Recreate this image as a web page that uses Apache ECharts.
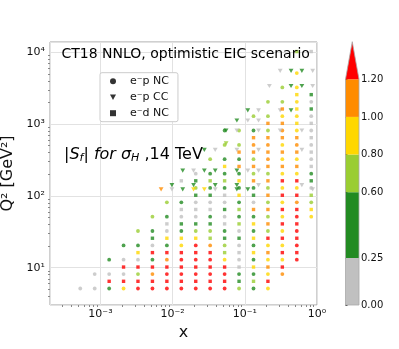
<!DOCTYPE html>
<html><head><meta charset="utf-8">
<script src="https://cdn.jsdelivr.net/npm/echarts@6/dist/echarts.min.js"></script>
<style>html,body{margin:0;padding:0;background:#fff;}#c{width:399px;height:349px;}</style>
</head><body><div id="c"></div>
<script>
// representative |S_f| value for each colour bin
const G = 0.15, D = 0.45, Y = 0.7, A = 0.9, O = 1.1, R = 1.4, _ = null;

// e- p NC and e- d NC share the x bins
const xBinsNC = [5.25e-4, 8.32e-4, 1.32e-3, 2.09e-3, 3.31e-3, 5.25e-3, 8.32e-3, 0.0132, 0.0209,
  0.0331, 0.0525, 0.0832, 0.132, 0.209, 0.331, 0.525, 0.832];

const q2BinsEpNC = [5.13, 8.13, 12.9, 20.4, 32.4, 51.3, 81.3, 129, 204, 324, 513, 813, 1288, 2042, 3236, 5129];
const sEpNC = [
  [G,G,D,A,R,R,R,R,R,R,R,Y,D,A,_,_,_],
  [_,G,G,G,Y,O,R,R,R,R,R,D,D,A,O,_,_],
  [_,_,D,G,G,D,O,R,R,R,A,G,D,A,A,R,_],
  [_,_,_,D,D,G,D,A,R,O,Y,G,D,A,A,R,_],
  [_,_,_,_,Y,D,G,D,Y,Y,D,G,D,Y,A,R,_],
  [_,_,_,_,_,Y,D,G,G,D,G,D,D,Y,A,R,A],
  [_,_,_,_,_,_,Y,D,G,G,G,D,G,Y,A,O,Y],
  [_,_,_,_,_,_,_,_,Y,D,D,D,D,Y,A,A,G],
  [_,_,_,_,_,_,_,_,G,D,D,D,Y,Y,A,A,D],
  [_,_,_,_,_,_,_,_,_,Y,D,D,Y,O,A,A,G],
  [_,_,_,_,_,_,_,_,_,_,Y,Y,O,O,A,O,G],
  [_,_,_,_,_,_,_,_,_,_,D,Y,D,Y,O,A,G],
  [_,_,_,_,_,_,_,_,_,_,_,_,Y,Y,A,A,G],
  [_,_,_,_,_,_,_,_,_,_,_,_,_,Y,Y,A,G],
  [_,_,_,_,_,_,_,_,_,_,_,_,_,_,Y,A,_],
  [_,_,_,_,_,_,_,_,_,_,_,_,_,_,_,A,_]
];

const q2BinsEdNC = [6.46, 10.2, 16.2, 25.7, 40.7, 64.6, 102, 162, 257, 407, 646, 1023, 1622, 2570, 10233];
const sEdNC = [
  [_,_,R,R,R,R,R,R,R,R,R,D,Y,R,_,_,_],
  [_,_,_,R,R,R,R,R,R,R,R,G,A,O,R,_,_],
  [_,_,_,_,A,R,R,R,R,R,Y,G,A,O,R,R,_],
  [_,_,_,_,_,D,A,A,A,Y,D,D,A,R,R,R,_],
  [_,_,_,_,_,_,G,D,D,D,G,Y,A,O,R,R,_],
  [_,_,_,_,_,_,_,G,G,G,D,Y,O,O,R,R,A],
  [_,_,_,_,_,_,_,_,D,D,G,A,D,O,R,R,Y],
  [_,_,_,_,_,_,_,G,D,Y,Y,A,O,O,R,R,D],
  [_,_,_,_,_,_,_,_,_,_,A,O,O,O,O,O,G],
  [_,_,_,_,_,_,_,_,_,_,_,O,O,O,O,O,G],
  [_,_,_,_,_,_,_,_,_,_,_,_,O,O,O,O,G],
  [_,_,_,_,_,_,_,_,_,_,_,_,_,O,O,A,G],
  [_,_,_,_,_,_,_,_,_,_,_,_,_,_,O,A,D],
  [_,_,_,_,_,_,_,_,_,_,_,_,_,_,_,A,D],
  [_,_,_,_,_,_,_,_,_,_,_,_,_,_,_,Y,G]
];

// e- p CC
const xBinsCC = [6.92e-3, 9.77e-3, 0.0138, 0.0195, 0.0275, 0.0389, 0.0550, 0.0776, 0.110, 0.155, 0.219, 0.309, 0.437, 0.617, 0.871];
const q2BinsCC = [123, 141, 224, 437, 537, 813, 1122, 1549, 3388, 5495];
const sCC = [
  [O,G,D,A,A,G,_,D,D,_,_,_,_,_,G],
  [_,D,_,D,_,D,_,D,_,G,_,_,_,G,_],
  [_,_,D,G,D,D,_,D,G,G,_,_,_,_,_],
  [_,_,_,_,D,G,_,G,_,G,_,_,_,G,_],
  [_,_,_,_,_,_,Y,_,_,_,_,_,_,_,_],
  [_,_,_,_,_,_,D,G,_,G,_,G,_,G,_],
  [_,_,_,_,_,_,_,D,G,G,_,_,_,_,_],
  [_,_,_,_,_,_,_,_,D,G,_,G,D,_,_],
  [_,_,_,_,_,_,_,_,_,_,G,_,D,D,G],
  [_,_,_,_,_,_,_,_,_,_,_,G,D,D,G]
];

// colour bar
const cbBounds = [0, 0.25, 0.6, 0.8, 1.0, 1.2];
const cbColors = ['#c0c0c0', '#228b22', '#9acd32', '#ffd700', '#ff8c00'];
const cbOver = '#ff0000';

function build(xs, qs, grid) {
  const out = [];
  grid.forEach((row, r) => row.forEach((v, c) => { if (v !== null) out.push([xs[c], qs[r], v]); }));
  return out;
}
const SUP = {'-': '\u207B', '0': '\u2070', '1': '\u00B9', '2': '\u00B2', '3': '\u00B3', '4': '\u2074'};
function powLabel(v) {
  const e = Math.log10(v), r = Math.round(e);
  if (Math.abs(e - r) > 1e-6) return '';
  return '10' + String(r).split('').map(ch => SUP[ch]).join('');
}

const FONT = 'DejaVu Sans';
const pieces = cbColors.map((c, i) => ({gte: cbBounds[i], lt: cbBounds[i + 1], color: c}));
pieces.push({gte: cbBounds[cbBounds.length - 1], color: cbOver});

const cbData = [];
for (let i = 0; i < cbColors.length; i++) cbData.push([cbBounds[i], cbBounds[i + 1], 0, i]);
cbData.push([1.2, 1.2, 1, 0]);  // extension arrow
cbData.push([0, 1.2, 2, 0]);    // outline
const EXT = 0.2; // arrow length in colour-bar units

const chart = echarts.init(document.getElementById('c'), null, {renderer: 'canvas'});
chart.setOption({
  animation: false,
  backgroundColor: '#fff',
  textStyle: {fontFamily: FONT},
  grid: [
    {left: 50, right: 82, top: 42, bottom: 44, show: true, borderColor: '#a0a0a0', borderWidth: 1,
     backgroundColor: 'transparent', containLabel: false, outerBoundsMode: 'none'},
    {left: 345.5, width: 13.5, top: 79.3, bottom: 44, containLabel: false, outerBoundsMode: 'none'}
  ],
  xAxis: [
    {type: 'log', gridIndex: 0, logBase: 10, min: 2e-4, max: 1,
     axisLine: {show: false}, axisTick: {show: false},
     minorTick: {show: true, splitNumber: 9, length: 2, lineStyle: {color: '#888'}},
     splitLine: {show: true, lineStyle: {color: '#e2e2e2', width: 1}},
     axisLabel: {formatter: powLabel, fontSize: 11, color: '#111', margin: 4, fontFamily: FONT, showMinLabel: false},
     name: 'x', nameLocation: 'middle', nameGap: 13, nameTextStyle: {fontSize: 16, color: '#111', fontFamily: FONT}},
    {type: 'value', gridIndex: 1, min: 0, max: 1, show: false}
  ],
  yAxis: [
    {type: 'log', gridIndex: 0, logBase: 10, min: 3.02, max: 13900,
     axisLine: {show: false}, axisTick: {show: false},
     minorTick: {show: true, splitNumber: 9, length: 2, lineStyle: {color: '#888'}},
     splitLine: {show: true, lineStyle: {color: '#e2e2e2', width: 1}},
     axisLabel: {formatter: powLabel, fontSize: 11, color: '#111', margin: 5, fontFamily: FONT, showMinLabel: false},
     name: 'Q\u00B2 [GeV\u00B2]', nameLocation: 'middle', nameGap: 27, nameRotate: 90,
     nameTextStyle: {fontSize: 16, color: '#111', fontFamily: FONT}},
    {type: 'value', gridIndex: 1, min: 0, max: 1.2, position: 'right',
     axisLine: {show: false}, splitLine: {show: false},
     axisTick: {show: true, customValues: cbBounds, length: 2, lineStyle: {color: '#333'}},
     axisLabel: {customValues: cbBounds, formatter: v => v.toFixed(2), fontSize: 10, margin: 2, color: '#111', fontFamily: FONT}}
  ],
  visualMap: {type: 'piecewise', show: false, dimension: 2, seriesIndex: [0, 1, 2], pieces: pieces},
  legend: {
    orient: 'vertical', left: 100, top: 72.7, padding: [3, 9, 3, 10], itemGap: 5,
    itemWidth: 6, itemHeight: 6, backgroundColor: '#fff', borderColor: '#cccccc', borderWidth: 1, borderRadius: 2,
    textStyle: {fontSize: 11, color: '#111', fontFamily: FONT, padding: [0, 0, 0, 9]},
    data: [
      {name: 'e\u207Bp NC', icon: 'circle', itemStyle: {color: '#000'}},
      {name: 'e\u207Bp CC', icon: 'path://M0,0L10,0L5,9Z', itemStyle: {color: '#000'}},
      {name: 'e\u207Bd NC', icon: 'rect', itemStyle: {color: '#000'}}
    ]
  },
  graphic: [
    {type: 'text', x: 185.7, y: 54.5, z: 100,
     style: {text: 'CT18 NNLO, optimistic EIC scenario', fontSize: 14, fontFamily: FONT, fill: '#000',
             textAlign: 'center', textVerticalAlign: 'middle'}},
    {type: 'text', x: 64, y: 155, z: 100,
     style: {text: '|{it|S}{sub|f}| {it|for} {it|\u03C3}{sub|H} ,14 TeV', fontSize: 16, fontFamily: FONT, fill: '#000',
             textAlign: 'left', textVerticalAlign: 'middle',
             rich: {it: {fontStyle: 'italic', fontSize: 16, fontFamily: FONT},
                    sub: {fontStyle: 'italic', fontSize: 11, fontFamily: FONT, padding: [7, 0, 0, 0]}}}}
  ],
  series: [
    {name: 'e\u207Bp NC', type: 'scatter', symbol: 'circle', symbolSize: 3.8, data: build(xBinsNC, q2BinsEpNC, sEpNC)},
    {name: 'e\u207Bp CC', type: 'scatter', symbol: 'triangle', symbolRotate: 180, symbolSize: [4.8, 4.2], data: build(xBinsCC, q2BinsCC, sCC)},
    {name: 'e\u207Bd NC', type: 'scatter', symbol: 'rect', symbolSize: 3.4, data: build(xBinsNC, q2BinsEdNC, sEdNC)},
    {type: 'custom', xAxisIndex: 1, yAxisIndex: 1, clip: false, silent: true, data: cbData,
     renderItem: function (params, api) {
       const lo = api.value(0), hi = api.value(1), kind = api.value(2), ci = api.value(3);
       if (kind === 0) {
         const p0 = api.coord([0, lo]), p1 = api.coord([1, hi]);
         return {type: 'rect', shape: {x: p0[0], y: p1[1], width: p1[0] - p0[0], height: p0[1] - p1[1]},
                 style: {fill: cbColors[ci]}};
       }
       const a = api.coord([0, hi]), b = api.coord([1, hi]), t = api.coord([0.5, hi + EXT]);
       if (kind === 1) {
         return {type: 'polygon', shape: {points: [a, b, t]}, style: {fill: cbOver}};
       }
       const bl = api.coord([0, lo]), br = api.coord([1, lo]);
       return {type: 'polygon', shape: {points: [bl, a, t, b, br]}, style: {fill: 'none', stroke: '#a8a8a8', lineWidth: 0.8}};
     }}
  ]
});
</script></body></html>
